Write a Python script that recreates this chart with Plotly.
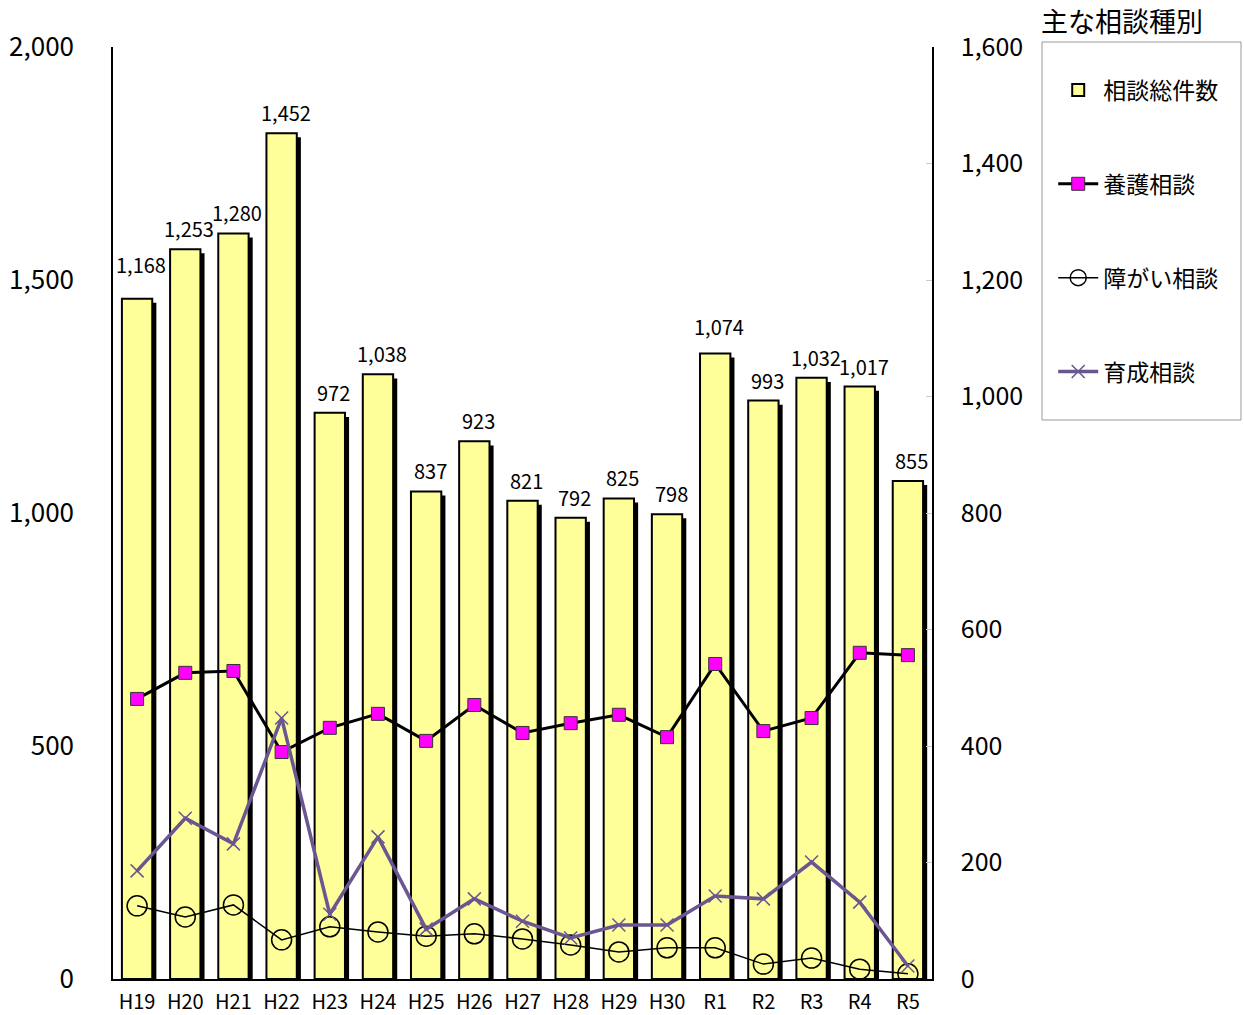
import plotly.graph_objects as go

# Fiscal years
years = ["H19", "H20", "H21", "H22", "H23", "H24", "H25", "H26", "H27", "H28",
         "H29", "H30", "R1", "R2", "R3", "R4", "R5"]

# Total consultations (right axis)
total = [1168, 1253, 1280, 1452, 972, 1038, 837, 923, 821, 792,
         825, 798, 1074, 993, 1032, 1017, 855]

# Consultation types (left axis)
yogo = [601, 657, 661, 487, 539, 569, 511, 588, 528, 549,
        567, 519, 676, 532, 560, 700, 695]
shogai = [157, 133, 159, 84, 112, 101, 92, 97, 86, 73,
          58, 67, 67, 32, 45, 21, 11]
ikusei = [232, 345, 290, 560, 139, 305, 107, 172, 124, 88,
          116, 116, 178, 172, 251, 165, 28]

FONT = "Noto Sans CJK JP"
BAR_W = 0.63
SHADOW_DX = 0.085
SHADOW_DY = 7  # drop of the bar shadow, in right-axis units

# extra lift (px) for labels that sit higher above their bar
LABEL_LIFT = {"H19": 14, "R1": 6}

fig = go.Figure()

# black drop shadow behind each bar
fig.add_trace(go.Bar(
    x=years, y=total, base=[-SHADOW_DY] * len(years), yaxis="y",
    width=BAR_W, offset=-BAR_W / 2 + SHADOW_DX,
    marker=dict(color="black", line=dict(width=0)),
    showlegend=False, hoverinfo="skip",
))

fig.add_trace(go.Bar(
    x=years, y=total, yaxis="y", name="相談総件数",
    width=BAR_W, offset=-BAR_W / 2,
    marker=dict(color="#FFFF99", line=dict(color="black", width=2)),
    legendgroup="a",
))

fig.add_trace(go.Scatter(
    x=years, y=yogo, yaxis="y2", name="養護相談", mode="lines+markers",
    line=dict(color="black", width=3),
    marker=dict(symbol="square", size=13, color="#FF00FF",
                line=dict(color="#333333", width=1)),
    legendgroup="b",
))

fig.add_trace(go.Scatter(
    x=years, y=shogai, yaxis="y2", name="障がい相談", mode="lines+markers",
    line=dict(color="black", width=1.5),
    marker=dict(symbol="circle-open", size=20, color="black",
                line=dict(color="black", width=1.5)),
    legendgroup="c",
))

fig.add_trace(go.Scatter(
    x=years, y=ikusei, yaxis="y2", name="育成相談", mode="lines+markers",
    line=dict(color="#6A5691", width=3.5),
    marker=dict(symbol="x-thin", size=13, color="#6A5691",
                line=dict(color="#6A5691", width=1.5)),
    legendgroup="d",
))

# value labels above the bars
bar_labels = [dict(
    x=yr, y=v, xref="x", yref="y", text=f"{v:,}",
    xanchor="center", yanchor="bottom", yshift=4 + LABEL_LIFT.get(yr, 0), xshift=4,
    showarrow=False, font=dict(family=FONT, size=20, color="black"),
) for yr, v in zip(years, total)]

fig.update_layout(
    width=1244, height=1015,
    margin=dict(l=113, r=312, t=47, b=36),
    paper_bgcolor="white", plot_bgcolor="white",
    barmode="overlay",
    font=dict(family=FONT, color="black"),
    xaxis=dict(
        type="category", showline=True, linecolor="black", linewidth=1.5,
        ticks="", tickfont=dict(size=20), range=[-0.5, 16.5],
        showgrid=False, ticklabelstandoff=4, automargin=False,
    ),
    # right axis: totals
    yaxis=dict(
        range=[0, 1600], dtick=200, tickformat=",", side="right",
        showline=True, linecolor="black", linewidth=1.5,
        showgrid=False, zeroline=False, ticks="inside", ticklen=6,
        tickcolor="#CCCCCC", automargin=False,
        tickfont=dict(size=25), ticklabelstandoff=22,
    ),
    # left axis: consultation types
    yaxis2=dict(
        range=[0, 2000], dtick=500, tickformat=",", side="left", overlaying="y",
        showline=True, linecolor="black", linewidth=1.5,
        showgrid=False, zeroline=False, ticks="", automargin=False,
        tickfont=dict(size=26), ticklabelstandoff=32,
    ),
    legend=dict(
        x=1.148, y=0.977, xanchor="left", yanchor="top",
        borderwidth=0, bgcolor="rgba(0,0,0,0)",
        font=dict(family=FONT, size=23, color="black"),
        tracegroupgap=61, itemwidth=40,
        traceorder="grouped",
    ),
    shapes=[dict(
        type="rect", xref="paper", yref="paper",
        x0=(1042 - 113) / 819, x1=(1241 - 113) / 819,
        y0=(979 - 420) / 932, y1=(979 - 42) / 932,
        line=dict(color="#999999", width=1), fillcolor="white", layer="below",
    )],
    annotations=bar_labels + [dict(
        text="主な相談種別", xref="paper", yref="paper",
        x=1.131, y=1.0, xanchor="left", yanchor="bottom", yshift=5,
        showarrow=False, font=dict(family=FONT, size=27, color="black"),
    )],
)

fig.write_html("out.html")
